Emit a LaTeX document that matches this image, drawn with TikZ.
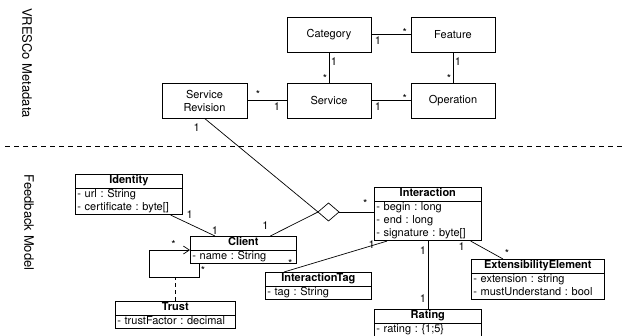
\documentclass[tikz,border=0pt]{standalone}
\usepackage{fontspec}
\setmainfont{TeX Gyre Heros}
\usetikzlibrary{shapes.multipart,shapes.geometric,arrows.meta}

\tikzset{
  entity/.style={draw, minimum width=84pt, minimum height=35pt, inner sep=1pt, align=center},
  umlclass/.style={draw, rectangle split, rectangle split parts=2, anchor=north west,
    inner xsep=2pt, inner ysep=0pt, align=left},
  mult/.style={inner sep=1.5pt}
}
% class title and attribute rows
\newcommand\cls[1]{\makebox[\hsize]{\textbf{#1}}\strut}
\newcommand\att[1]{\strut#1}

\begin{document}
\begin{tikzpicture}[x=1pt, y=1pt, line width=.7pt, font=\fontsize{11}{13}\selectfont\frenchspacing]
\useasboundingbox (0,0) rectangle (626,336);

% section labels
\node[rotate=-90, font=\fontsize{13}{15}\selectfont] (meta) at (27,273) {VRESCo Metadata};
\node[rotate=-90, font=\fontsize{13}{15}\selectfont] (fb) at (29,113.5) {Feedback Model};
\draw[dash pattern=on 5pt off 4pt] (5,190) -- (623,190);

% metadata
\node[entity] (category) at (329,301.5) {Category};
\node[entity] (feature) at (453,301.5) {Feature};
\node[entity] (service) at (329,235.5) {Service};
\node[entity] (operation) at (453,235.5) {Operation};
\node[entity, minimum width=85pt] (srev) at (204.5,235.5) {Service\\Revision};

\draw (category) -- (feature) node[mult, pos=.17, below]{1} node[mult, pos=.85, above=-3.5pt]{*};
\draw (category) -- (service) node[mult, pos=.29, right]{1} node[mult, pos=.87, left]{*};
\draw (feature) -- (operation) node[mult, pos=.29, right]{1} node[mult, pos=.87, left]{*};
\draw (service) -- (operation) node[mult, pos=.17, below]{1} node[mult, pos=.85, above=-3.5pt]{*};
\draw (srev) -- (service) node[mult, pos=.27, above]{*} node[mult, pos=.75, below]{1};

% feedback model
\node[umlclass, text width=103pt] (identity) at (75,162)
  {\cls{Identity}\nodepart{two}\att{- url : String}\\\att{- certificate : byte[]}};
\node[umlclass, text width=102pt] (client) at (190,100)
  {\cls{Client}\nodepart{two}\att{- name : String}};
\node[umlclass, text width=116pt] (trust) at (115,35)
  {\cls{Trust}\nodepart{two}\att{- trustFactor : decimal}};
\node[umlclass, text width=102pt] (tag) at (265,64)
  {\cls{InteractionTag}\nodepart{two}\att{- tag : String}};
\node[umlclass, text width=103pt] (interaction) at (374,149)
  {\cls{Interaction}\nodepart{two}\att{- begin : long}\\\att{- end : long}\\\att{- signature : byte[]}};
\node[umlclass, text width=103pt] (rating) at (374,27)
  {\cls{Rating}\nodepart{two}\att{- rating : \{1;5\}}};
\node[umlclass, text width=129pt] (ext) at (471,77)
  {\cls{ExtensibilityElement}\nodepart{two}\att{- extension : string}\\\att{- mustUnderstand : bool}};

% aggregation
\node[draw, diamond, minimum width=21pt, minimum height=18pt, inner sep=0pt, outer sep=0pt] (agg) at (328.5,124) {};
\draw (srev.south) -- (agg.west) node[mult, pos=0, below left, xshift=-3pt, yshift=-4pt]{1};
\draw ([xshift=27pt]client.north) -- (agg.west) node[mult, pos=0, above left, yshift=5pt]{1};
\draw (agg.east) -- (agg.east -| interaction.west) node[mult, pos=.75, above=2.5pt]{*};

\draw ([xshift=-12pt]identity.south east) -- ([xshift=25pt]client.north west)
  node[mult, pos=0, right=14pt]{1} node[mult, pos=1, above]{1};

% trust association
\coordinate (loop) at (149,59);
\draw[-{Straight Barb[length=6pt,width=8pt]}] ([xshift=9pt]client.south west)
  |- node[mult, pos=.25, right]{*} (loop)
  |- node[mult, pos=.8, above]{*} (client.west);
\draw[dash pattern=on 4pt off 3pt] (trust.north) -- (trust.north |- loop);

% interaction parts
\draw ([xshift=13pt]interaction.south west) -- ([xshift=19pt]tag.north west)
  node[mult, pos=.1, left]{1} node[mult, pos=.9, above left]{*};
\draw (interaction.south) -- (rating.north)
  node[mult, pos=.14, left]{1} node[mult, pos=.85, left]{1};
\draw ([xshift=-11pt]interaction.south east) -- ([xshift=32pt]ext.north west)
  node[mult, pos=0, below left, xshift=-4pt]{1} node[mult, pos=1, above right]{*};
\end{tikzpicture}
\end{document}
